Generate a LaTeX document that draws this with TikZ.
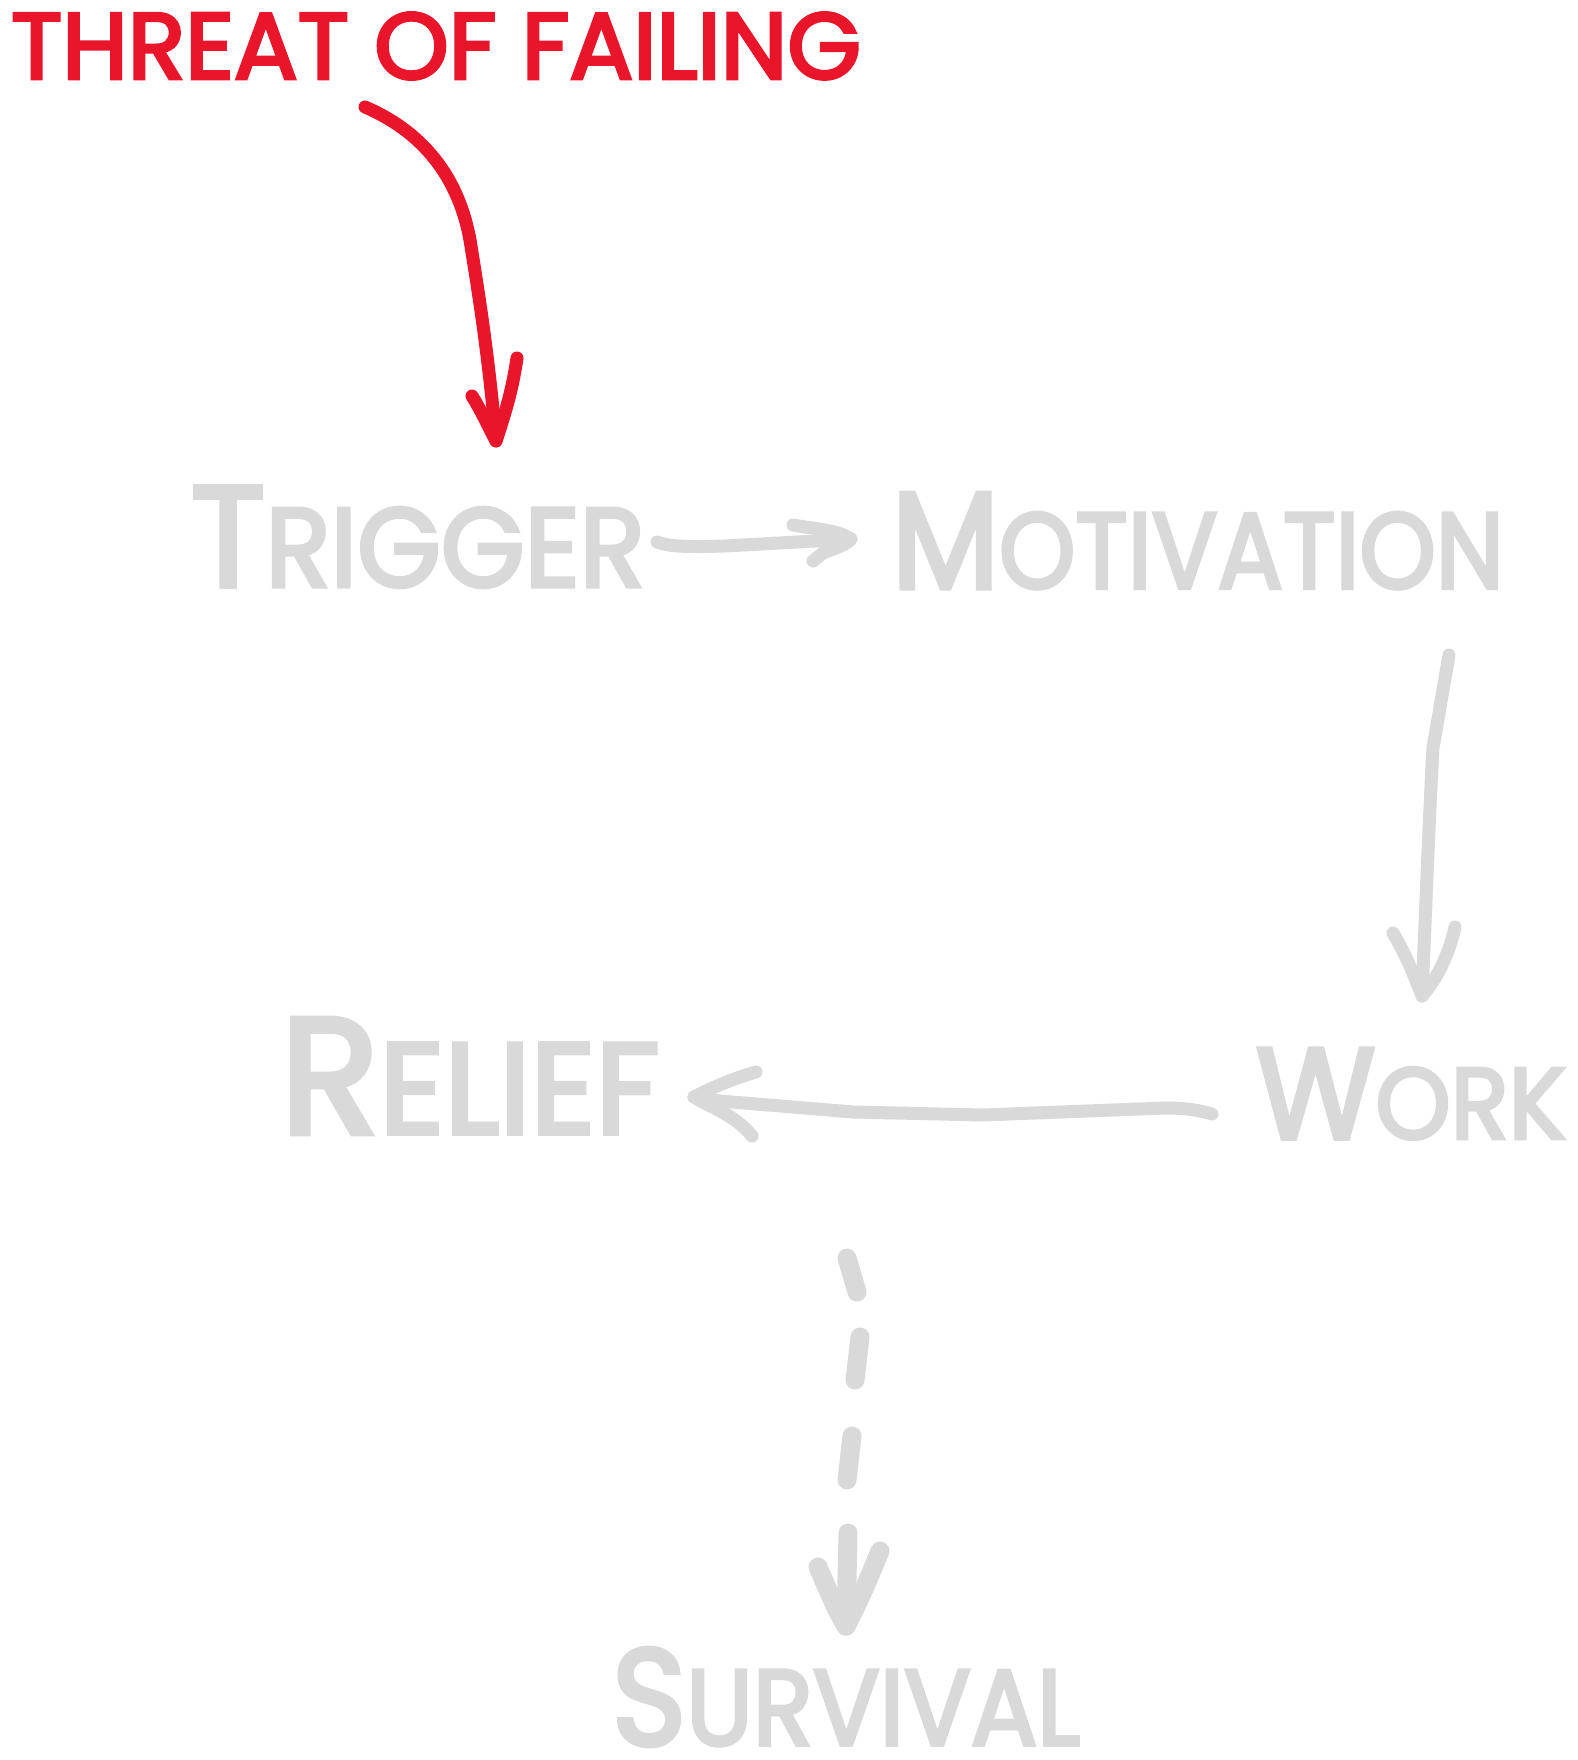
\documentclass[tikz,border=0pt]{standalone}
\usepackage{fontspec}
\setmainfont{Poppins}
\newfontfamily\handfont{Poppins}[FakeBold=3.5]
\usepackage{graphicx}
\usetikzlibrary{calc}
\definecolor{redink}{HTML}{E8152B}
\definecolor{grayink}{HTML}{D9D9D9}
\newcommand{\capword}[2]{{\fontsize{12.8}{13}\selectfont #1}{\fontsize{10}{13}\selectfont #2}}
\tikzset{
  ink/.style={line width=13pt, line cap=round, line join=round},
  redline/.style={ink, draw=redink},
  grayline/.style={ink, draw=grayink},
  dashline/.style={line width=19pt, line cap=round, line join=round, draw=grayink},
  word/.style={inner sep=0pt, outer sep=0pt, text=grayink, font=\handfont},
}
\begin{document}
\begin{tikzpicture}[x=1pt,y=-1pt]
\useasboundingbox (0,0) rectangle (1577,1760);
\fill[white] (0,0) rectangle (1577,1760);

% words
\node[word, text=redink] (threat) at (436,46) {\resizebox{850pt}{66pt}{THREAT OF FAILING}};
\node[word] (trigger) at (418,537) {\resizebox{454pt}{100pt}{\capword{T}{RIGGER}}};
\node[word] (motivation) at (1198,541) {\resizebox{612pt}{95pt}{\capword{M}{OTIVATION}}};
\node[word] (work) at (1411,1094) {\resizebox{310pt}{90pt}{\capword{W}{ORK}}};
\node[word] (relief) at (470,1076) {\resizebox{379pt}{115pt}{\capword{R}{ELIEF}}};
\node[word] (survival) at (846,1697) {\resizebox{468pt}{97pt}{\capword{S}{URVIVAL}}};

% connector end points
\coordinate (r0) at (365,107);
\coordinate (r1) at (496,441);
\coordinate (a0) at (657,542);
\coordinate (a1) at (851,539);
\coordinate (b0) at (1449,655);
\coordinate (b1) at (1422,996);
\coordinate (c0) at (1212,1114);
\coordinate (c1) at (694,1097);
\coordinate (d0) at (847,1258);
\coordinate (d1) at (846,1626);

% threat -> trigger (red)
\draw[redline] (r0) .. controls (430,135) and (460,185) .. (470,240)
   .. controls (478,290) and (488,350) .. (r1);
\draw[redline] (472,396) .. controls (482,412) and (489,428) .. (r1)
   .. controls (508,405) and (513,385) .. (517,358);

% trigger -> motivation
\draw[grayline] (a0) .. controls (670,547) and (690,547) .. (725,546) -- (a1);
\draw[grayline] (793,525) .. controls (815,529) and (838,530) .. (a1)
   .. controls (845,546) and (832,549) .. (823,553) -- (813,561);

% motivation -> work
\draw[grayline] (b0) -- (1433,748) .. controls (1430,800) and (1426,900) .. (b1);
\draw[grayline] (1393,933) .. controls (1406,955) and (1414,975) .. (b1)
   .. controls (1440,975) and (1450,950) .. (1455,927);

% work -> relief
\draw[grayline] (c0) .. controls (1195,1109) and (1180,1108) .. (1165,1108)
   -- (983,1115) -- (853,1112) -- (720,1101) -- (c1);
\draw[grayline] (756,1072) .. controls (735,1078) and (715,1086) .. (c1)
   .. controls (712,1108) and (735,1115) .. (752,1136);

% relief -> survival (dashed)
\draw[dashline] (d0) -- (857,1292);
\draw[dashline] (860,1337) -- (855,1380);
\draw[dashline] (852,1436) -- (847,1480);
\draw[dashline] (848,1533) -- (d1);
\draw[dashline] (818,1567) .. controls (828,1590) and (836,1610) .. (d1)
   .. controls (860,1600) and (870,1575) .. (880,1551);
\end{tikzpicture}
\end{document}
